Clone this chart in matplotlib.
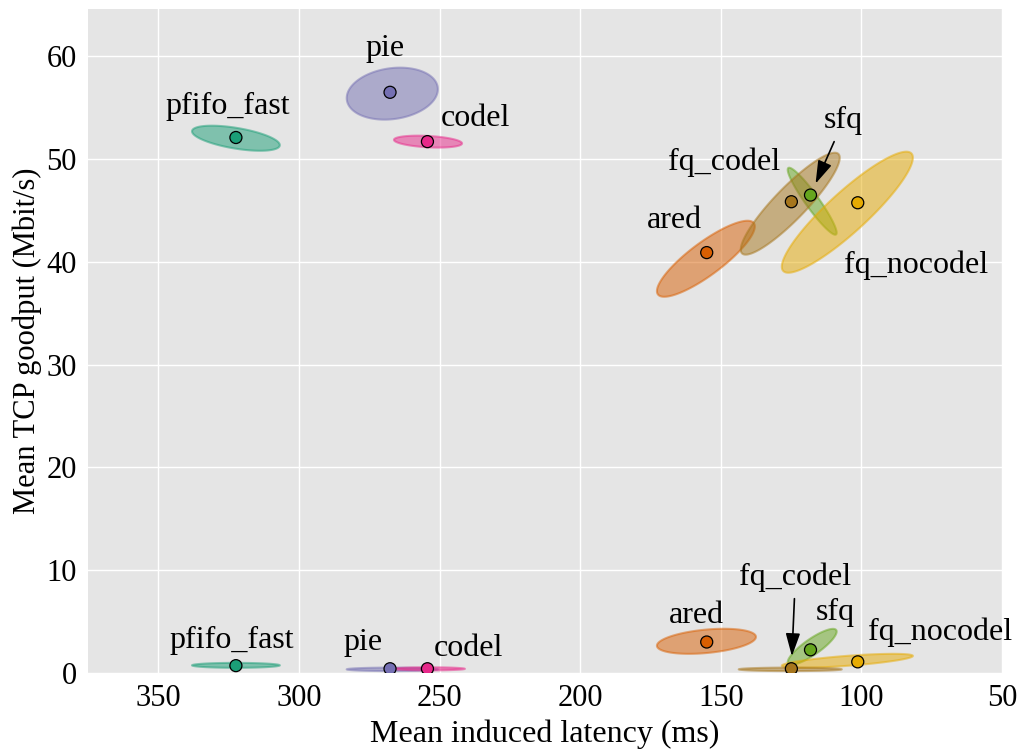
import numpy as np
import matplotlib
matplotlib.use('Agg')
import matplotlib.pyplot as plt
from matplotlib.patches import Polygon

plt.rcParams['font.family'] = ['Liberation Serif', 'DejaVu Serif']

# qdiscs in plotting order, Dark2 colours
qdiscs = ['pfifo_fast', 'ared', 'pie', 'codel', 'sfq', 'fq_nocodel', 'fq_codel']
colors = ['#1b9e77', '#d95f02', '#7570b3', '#e7298a', '#66a61e', '#e6ab02', '#a6761d']

# mean induced latency (ms), same for both directions
latency = [322.4, 155.0, 267.6, 254.3, 118.1, 101.3, 124.9]
# mean TCP goodput (Mbit/s), download and upload
goodput_down = [52.1, 40.9, 56.5, 51.7, 46.5, 45.75, 45.85]
goodput_up = [0.7, 3.0, 0.4, 0.4, 2.24, 1.07, 0.4]

# spread ellipses: centre, half extent in x / y, correlation
ell_down_x = [322.4, 155.3, 266.8, 254.1, 117.5, 105.0, 125.3]
ell_down_y = [52.03, 40.3, 56.37, 51.7, 45.9, 44.83, 45.66]
ell_down_dx = [15.6, 17.4, 16.2, 12.1, 8.7, 23.3, 17.6]
ell_down_dy = [1.22, 3.7, 2.53, 0.58, 3.26, 5.89, 4.96]
ell_down_rho = [0.55, -0.85, -0.17, 0.3, 0.94, -0.9, -0.9]

ell_up_x = [322.4, 155.1, 266.8, 253.6, 117.5, 105.0, 125.3]
ell_up_y = [0.73, 3.07, 0.34, 0.39, 2.53, 1.17, 0.34]
ell_up_dx = [15.6, 17.6, 16.2, 12.6, 8.7, 23.3, 18.3]
ell_up_dy = [0.24, 1.22, 0.17, 0.15, 1.75, 0.68, 0.17]
ell_up_rho = [0.0, -0.35, 0.0, 0.0, -0.85, -0.7, 0.0]

# label offsets in pixels (dx, dy) from the point, text baseline
lab_down = [(-8, 24), (-32, 25), (-5, 36), (48, 16), (33, 67), (58, -70), (-67, 32)]
lab_up = [(-4, 18), (-10, 19), (-27, 19), (41, 13), (25, 30), (82, 22), (4, 84)]
arrow_down = 'sfq'
arrow_up = 'fq_codel'


def ellipse(ax, cx, cy, dx, dy, rho, color):
    t = np.linspace(0, 2 * np.pi, 200)
    x = cx + dx * np.cos(t)
    y = cy + dy * (rho * np.cos(t) + np.sqrt(1 - rho ** 2) * np.sin(t))
    ax.add_patch(Polygon(np.column_stack([x, y]), closed=True, facecolor=color,
                         edgecolor=color, alpha=0.5, lw=1.5, zorder=2))


fig = plt.figure(figsize=(10.23, 7.56), dpi=100)
ax = fig.add_axes([0.086, 0.11, 0.8935, 0.878])
ax.set_facecolor('#e5e5e5')
for s in ax.spines.values():
    s.set_visible(False)
ax.grid(True, color='white', lw=1.0)
ax.set_axisbelow(True)

for i, q in enumerate(qdiscs):
    ellipse(ax, ell_down_x[i], ell_down_y[i], ell_down_dx[i], ell_down_dy[i],
            ell_down_rho[i], colors[i])
    ellipse(ax, ell_up_x[i], ell_up_y[i], ell_up_dx[i], ell_up_dy[i],
            ell_up_rho[i], colors[i])

ax.scatter(latency, goodput_down, s=75, c=colors, edgecolors='black',
           linewidths=0.9, zorder=4)
ax.scatter(latency, goodput_up, s=75, c=colors, edgecolors='black',
           linewidths=0.9, zorder=4)

for i, q in enumerate(qdiscs):
    for gp, offs, arr in ((goodput_down, lab_down, arrow_down),
                          (goodput_up, lab_up, arrow_up)):
        kw = {}
        if q == arr:
            kw['arrowprops'] = dict(arrowstyle='-|>,head_length=0.7,head_width=0.22',
                                    color='black', lw=1.2, mutation_scale=20,
                                    shrinkA=3, shrinkB=9)
        ax.annotate(q, xy=(latency[i], gp[i]), xytext=offs[i],
                    textcoords='offset pixels', ha='center', va='baseline',
                    fontsize=23, zorder=5, annotation_clip=False, **kw)

ax.set_xlim(375, 50)
ax.set_ylim(0, 64.6)
ax.set_xticks([350, 300, 250, 200, 150, 100, 50])
ax.set_yticks([0, 10, 20, 30, 40, 50, 60])
ax.tick_params(length=0, labelsize=22, pad=8)
ax.set_xlabel('Mean induced latency (ms)', fontsize=23, labelpad=5)
ax.set_ylabel('Mean TCP goodput (Mbit/s)', fontsize=22, labelpad=3)

fig.savefig('out.png', dpi=100)
